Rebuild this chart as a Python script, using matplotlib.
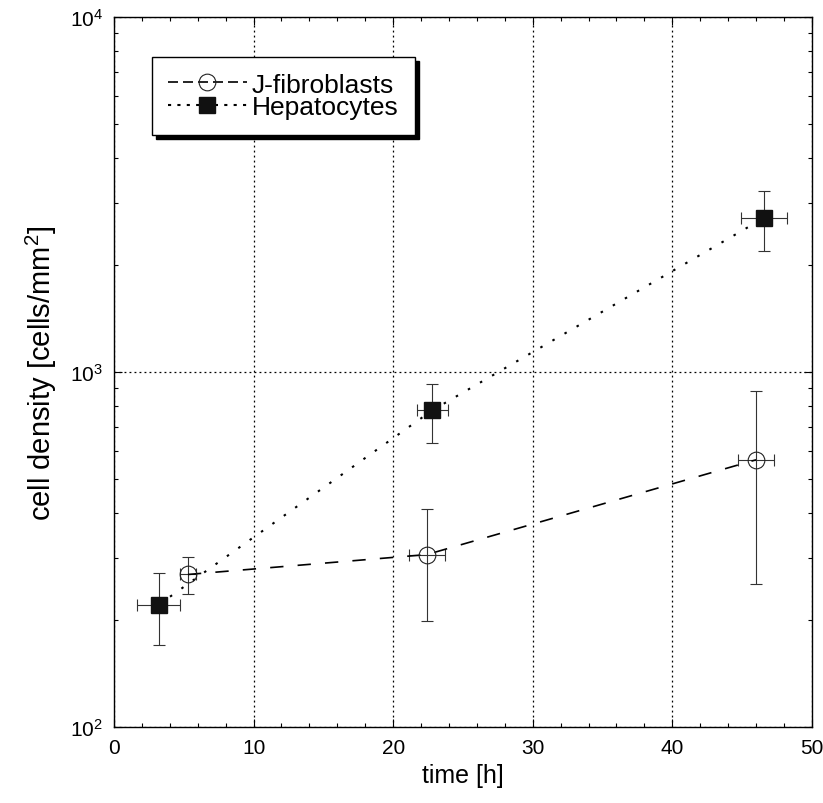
import numpy as np
import matplotlib
matplotlib.use("Agg")
import matplotlib.pyplot as plt
from matplotlib.lines import Line2D
from matplotlib.ticker import MultipleLocator, LogLocator

plt.rcParams['font.family'] = ['Liberation Sans', 'DejaVu Sans']
plt.rcParams['mathtext.fontset'] = 'custom'
plt.rcParams['mathtext.rm'] = 'Liberation Sans'

# J-fibroblasts
fib_t = [5.3, 22.4, 46.0]
fib_d = [269, 306, 566]
fib_d_lo = [237, 199, 253]
fib_d_hi = [302, 411, 883]
fib_t_err = [0.6, 1.3, 1.3]

# Hepatocytes
hep_t = [3.2, 22.8, 46.6]
hep_d = [221, 780, 2722]
hep_d_lo = [170, 630, 2197]
hep_d_hi = [272, 926, 3245]
hep_t_err = [1.55, 1.1, 1.65]

fig = plt.figure(figsize=(8.23, 8.04), dpi=100)
ax = fig.add_axes([0.1385, 0.0945, 0.848, 0.883])

ax.set_yscale('log')
ax.set_xlim(0, 50)
ax.set_ylim(100, 10000)

# error bars first, lines and markers on top
for t, d, lo, hi, te in [(fib_t, fib_d, fib_d_lo, fib_d_hi, fib_t_err),
                         (hep_t, hep_d, hep_d_lo, hep_d_hi, hep_t_err)]:
    yerr = [np.array(d) - np.array(lo), np.array(hi) - np.array(d)]
    ax.errorbar(t, d, yerr=yerr, xerr=te, fmt='none', ecolor='#333333',
                elinewidth=0.8, capsize=4, capthick=0.8, zorder=3)

ax.plot(fib_t, fib_d, color='k', lw=1.2, linestyle=(0, (8, 8.5)), zorder=4)
ax.plot(fib_t, fib_d, linestyle='none', marker='o', ms=12, mfc='none',
        mec='#222222', mew=0.8, zorder=5)
ax.plot(hep_t, hep_d, color='k', lw=1.5, linestyle=(0, (1.2, 5.5)), zorder=4)
ax.plot(hep_t, hep_d, linestyle='none', marker='s', ms=11.5, mfc='#111111',
        mec='#111111', zorder=5)

ax.xaxis.set_major_locator(MultipleLocator(10))
ax.xaxis.set_minor_locator(MultipleLocator(2))
ax.yaxis.set_major_locator(LogLocator(base=10))
ax.yaxis.set_minor_locator(LogLocator(base=10, subs=np.arange(2, 10)))
ax.tick_params(which='both', direction='in', top=True, right=True,
               labelsize=15, width=0.8)
ax.tick_params(which='major', length=6, pad=8)
ax.tick_params(which='minor', length=3)

ax.grid(True, which='major', linestyle=(0, (1.5, 2.5)), color='k', lw=0.9)

for s in ax.spines.values():
    s.set_linewidth(1.0)

ax.set_xlabel('time [h]', fontsize=18, labelpad=4)
ax.set_ylabel('cell density [cells/mm$^2$]', fontsize=21, labelpad=8)

handles = [
    Line2D([], [], color='k', lw=1.2, linestyle=(0, (6, 3)), marker='o',
           ms=12, mfc='none', mec='#222222', mew=0.8),
    Line2D([], [], color='k', lw=1.5, linestyle=(0, (1.5, 3)), marker='s',
           ms=11.5, mfc='#111111', mec='#111111'),
]
leg = ax.legend(handles, ['J-fibroblasts', 'Hepatocytes'], loc='upper left',
                bbox_to_anchor=(0.054, 0.944), borderaxespad=0, fontsize=19,
                handlelength=3.0, handletextpad=0.2, labelspacing=-0.05,
                borderpad=0.6, fancybox=False, framealpha=1, edgecolor='k',
                shadow={'color': 'k', 'alpha': 1, 'ox': 3, 'oy': -3})
leg.get_frame().set_linewidth(1.0)
leg.set_zorder(6)

fig.savefig('out.png', dpi=100)
